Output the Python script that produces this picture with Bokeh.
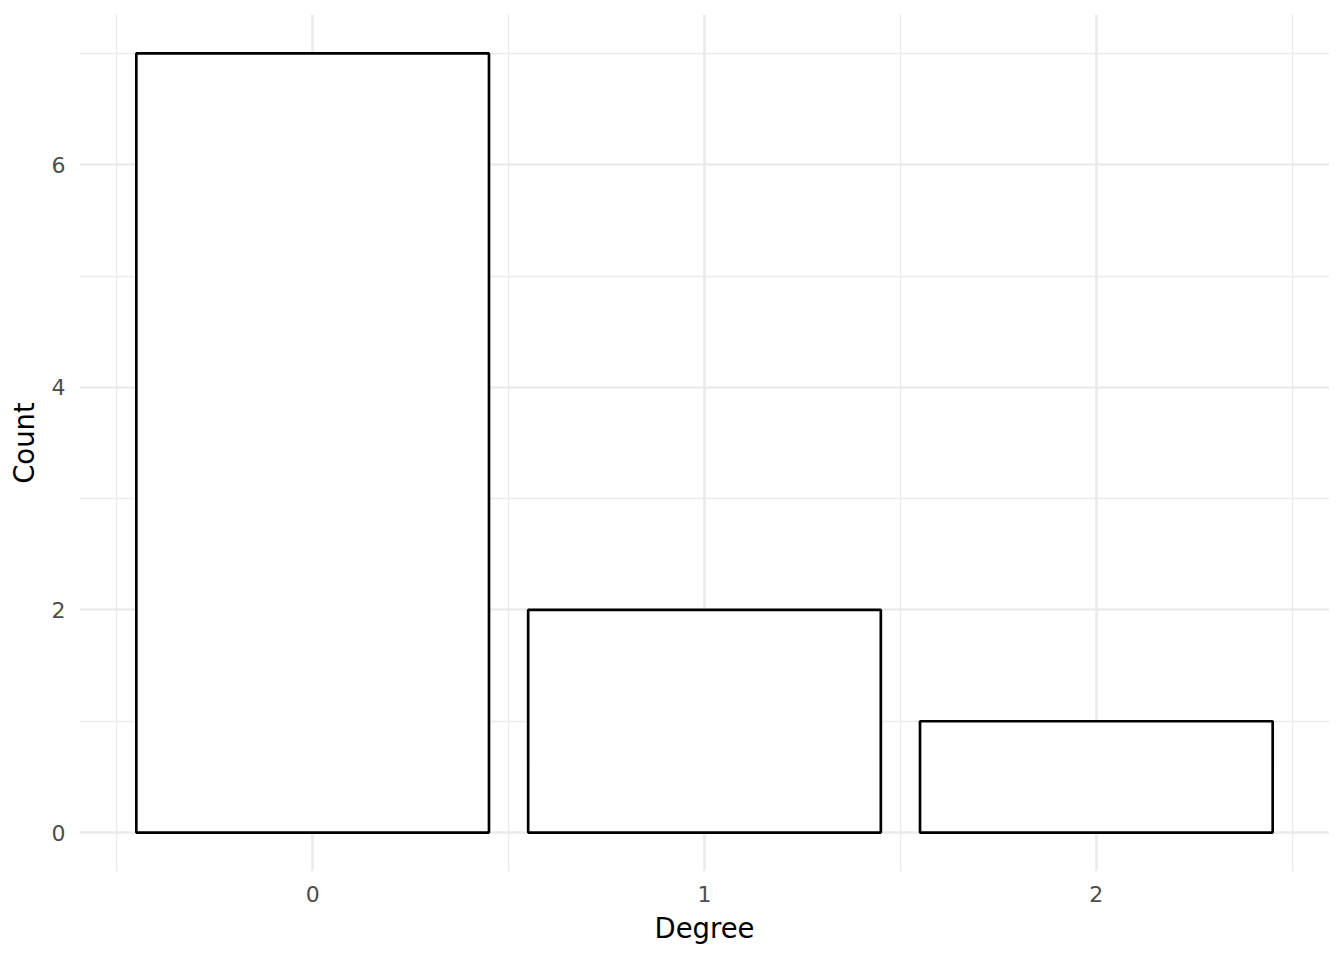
from bokeh.plotting import figure
from bokeh.models import Range1d, FixedTicker, ColumnDataSource
from bokeh.embed import file_html
from bokeh.resources import INLINE

degrees = [0, 1, 2]
counts = [7, 2, 1]
x_ticks = [0, 1, 2]
x_minor = [-0.5, 0.5, 1.5, 2.5]
y_ticks = [0, 2, 4, 6]
y_minor = [1, 3, 5, 7]

src = ColumnDataSource(dict(x=degrees, top=counts))

p = figure(frame_width=1250, frame_height=857, output_backend="svg", toolbar_location=None,
           x_range=Range1d(-0.595, 2.595), y_range=Range1d(-0.35, 7.35),
           min_border_left=79, min_border_right=0, min_border_top=14, min_border_bottom=73)
p.outline_line_color = None
p.background_fill_color = "white"
p.border_fill_color = "white"

p.vbar(x="x", top="top", bottom=0, width=0.9, source=src,
       fill_color="white", line_color="black", line_width=2.67)

for ax, ticks, minor in ((p.xaxis[0], x_ticks, x_minor), (p.yaxis[0], y_ticks, y_minor)):
    ax.ticker = FixedTicker(ticks=ticks, minor_ticks=minor)
    ax.axis_line_color = None
    ax.major_tick_line_color = None
    ax.minor_tick_line_color = None
    ax.major_label_text_font = "DejaVu Sans"
    ax.major_label_text_font_size = "22px"
    ax.major_label_text_color = "#4D4D4D"
    ax.axis_label_text_font = "DejaVu Sans"
    ax.axis_label_text_font_size = "27.5px"
    ax.axis_label_text_font_style = "normal"
    ax.axis_label_text_color = "black"

p.xaxis.axis_label = "Degree"
p.yaxis.axis_label = "Count"
p.xaxis.major_label_standoff = 8
p.yaxis.major_label_standoff = 8
p.xaxis.axis_label_standoff = 7
p.yaxis.axis_label_standoff = 9

for g in (p.xgrid[0], p.ygrid[0]):
    g.grid_line_color = "#EBEBEB"
    g.grid_line_width = 2.67
    g.minor_grid_line_color = "#EBEBEB"
    g.minor_grid_line_width = 1.33

open("out.html", "w").write(file_html(p, INLINE))
